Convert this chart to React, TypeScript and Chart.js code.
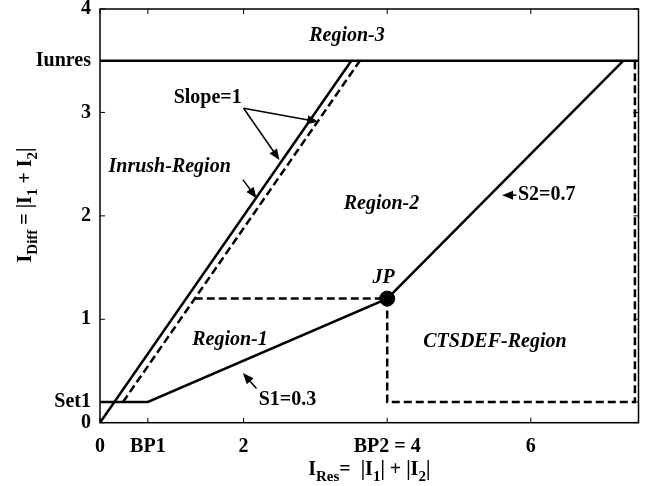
import React, { useEffect, useRef } from "react";
import { Chart, registerables } from "chart.js";

Chart.register(...registerables);

// ---- tick values and labels ----
const xTickValues = [0, 0.667, 2, 4, 6];
const xTickLabels = ["0", "BP1", "2", "BP2 = 4", "6"];
const yTickValues = [0, 0.2, 1, 2, 3, 3.5, 4];
const yTickLabels = ["0", "Set1", "1", "2", "3", "Iunres", "4"];

// ---- line series ----
const charX = [0, 0.667, 4, 7.29];
const charY = [0.2, 0.2, 1.2, 3.5];
const slopeSolidX = [0, 3.5];
const slopeSolidY = [0, 3.5];
const slopeDashX = [0.32, 3.62];
const slopeDashY = [0.2, 3.5];
const iunresX = [0, 7.5];
const iunresY = [3.5, 3.5];
const jpDashX = [1.32, 4];
const jpDashY = [1.2, 1.2];
const ctsdefX = [4, 4, 7.45, 7.45];
const ctsdefY = [1.2, 0.2, 0.2, 3.5];
const jpX = [4];
const jpY = [1.2];

// ---- annotations ----
const noteTexts = ["Region-3", "Inrush-Region", "Region-2", "Region-1", "CTSDEF-Region", "JP", "Slope=1", "S1=0.3", "S2=0.7"];
const noteX = [3.44, 0.97, 3.92, 1.81, 5.5, 3.95, 1.5, 2.61, 5.82];
const noteY = [3.74, 2.47, 2.12, 0.8, 0.78, 1.4, 3.14, 0.22, 2.2];
const noteItalic = [true, true, true, true, true, true, false, false, false];
const noteAlign = ["center", "center", "center", "center", "center", "center", "center", "center", "left"];

const arrowFromX = [2.0, 2.0, 1.99, 2.18, 5.8];
const arrowFromY = [3.04, 3.04, 2.35, 0.33, 2.2];
const arrowToX = [3.04, 2.5, 2.18, 1.99, 5.6];
const arrowToY = [2.91, 2.54, 2.17, 0.48, 2.2];

// axis titles: [text, isSubscript]
const xTitleParts: [string, boolean][] = [["I", false], ["Res", true], ["=  |I", false], ["1", true], ["| + |I", false], ["2", true], ["|", false]];
const yTitleParts: [string, boolean][] = [["I", false], ["Diff", true], [" = |I", false], ["1", true], [" + I", false], ["2", true], ["|", false]];

const FAMILY = "'Liberation Serif', 'DejaVu Serif', serif";
const FS = 20;

function pts(xs: number[], ys: number[]) {
  return xs.map((x, i) => ({ x, y: ys[i] }));
}

function drawRich(ctx: CanvasRenderingContext2D, parts: [string, boolean][], cx: number, baseY: number) {
  const main = `bold ${FS}px ${FAMILY}`;
  const sub = `bold 15px ${FAMILY}`;
  let total = 0;
  for (const [t, s] of parts) {
    ctx.font = s ? sub : main;
    total += ctx.measureText(t).width;
  }
  let x = cx - total / 2;
  ctx.textAlign = "left";
  ctx.textBaseline = "alphabetic";
  for (const [t, s] of parts) {
    ctx.font = s ? sub : main;
    ctx.fillText(t, x, s ? baseY + 6 : baseY);
    x += ctx.measureText(t).width;
  }
}

function drawArrow(ctx: CanvasRenderingContext2D, x1: number, y1: number, x2: number, y2: number) {
  const ang = Math.atan2(y2 - y1, x2 - x1);
  const len = 11;
  const half = 4.5;
  ctx.beginPath();
  ctx.moveTo(x1, y1);
  ctx.lineTo(x2 - Math.cos(ang) * len * 0.8, y2 - Math.sin(ang) * len * 0.8);
  ctx.lineWidth = 1.5;
  ctx.stroke();
  ctx.beginPath();
  ctx.moveTo(x2, y2);
  ctx.lineTo(x2 - Math.cos(ang) * len - Math.sin(ang) * half, y2 - Math.sin(ang) * len + Math.cos(ang) * half);
  ctx.lineTo(x2 - Math.cos(ang) * len + Math.sin(ang) * half, y2 - Math.sin(ang) * len - Math.cos(ang) * half);
  ctx.closePath();
  ctx.fill();
}

const decorPlugin = {
  id: "decor",
  afterDraw(chart: any) {
    const ctx: CanvasRenderingContext2D = chart.ctx;
    const a = chart.chartArea;
    const xs = chart.scales.x;
    const ys = chart.scales.y;
    ctx.save();
    ctx.strokeStyle = "#000";
    ctx.fillStyle = "#000";
    // box
    ctx.lineWidth = 1.5;
    ctx.strokeRect(a.left, a.top, a.right - a.left, a.bottom - a.top);
    // inward ticks
    ctx.lineWidth = 1;
    ctx.beginPath();
    for (const v of xTickValues) {
      const px = xs.getPixelForValue(v);
      ctx.moveTo(px, a.bottom);
      ctx.lineTo(px, a.bottom - 5);
      ctx.moveTo(px, a.top);
      ctx.lineTo(px, a.top + 5);
    }
    for (const v of yTickValues) {
      const py = ys.getPixelForValue(v);
      ctx.moveTo(a.left, py);
      ctx.lineTo(a.left + 5, py);
      ctx.moveTo(a.right, py);
      ctx.lineTo(a.right - 5, py);
    }
    ctx.stroke();
    // annotations
    ctx.textBaseline = "middle";
    noteTexts.forEach((t, i) => {
      ctx.font = `${noteItalic[i] ? "italic " : ""}bold ${FS}px ${FAMILY}`;
      ctx.textAlign = noteAlign[i] as CanvasTextAlign;
      ctx.fillText(t, xs.getPixelForValue(noteX[i]), ys.getPixelForValue(noteY[i]));
    });
    // arrows
    arrowFromX.forEach((_, i) => {
      drawArrow(
        ctx,
        xs.getPixelForValue(arrowFromX[i]),
        ys.getPixelForValue(arrowFromY[i]),
        xs.getPixelForValue(arrowToX[i]),
        ys.getPixelForValue(arrowToY[i])
      );
    });
    // axis titles
    drawRich(ctx, xTitleParts, (a.left + a.right) / 2, 475);
    ctx.save();
    ctx.translate(31, 205);
    ctx.rotate(-Math.PI / 2);
    drawRich(ctx, yTitleParts, 0, 0);
    ctx.restore();
    ctx.restore();
  },
};

export default function App() {
  const ref = useRef<HTMLCanvasElement | null>(null);
  useEffect(() => {
    if (!ref.current) return;
    const solid = { borderColor: "#000", borderWidth: 2.5, pointRadius: 0, showLine: true, fill: false };
    const dashed = { ...solid, borderDash: [8, 4] };
    const chart = new Chart(ref.current, {
      type: "scatter",
      data: {
        datasets: [
          { ...solid, label: "Iunres", data: pts(iunresX, iunresY) },
          { ...solid, label: "Characteristic", data: pts(charX, charY) },
          { ...solid, label: "Slope solid", data: pts(slopeSolidX, slopeSolidY) },
          { ...dashed, label: "Slope dashed", data: pts(slopeDashX, slopeDashY) },
          { ...dashed, label: "JP dashed", data: pts(jpDashX, jpDashY) },
          { ...dashed, label: "CTSDEF", data: pts(ctsdefX, ctsdefY) },
          {
            label: "JP",
            data: pts(jpX, jpY),
            showLine: false,
            pointRadius: 7.5,
            pointBackgroundColor: "#000",
            pointBorderColor: "#000",
          },
        ] as any,
      },
      options: {
        animation: false,
        responsive: false,
        layout: { padding: { left: 0, right: 7.7, top: 9, bottom: 0 } },
        plugins: { legend: { display: false }, tooltip: { enabled: false } },
        scales: {
          x: {
            type: "linear",
            min: 0,
            max: 7.5,
            grid: { display: false, drawTicks: false },
            border: { display: false },
            afterBuildTicks: (s: any) => {
              s.ticks = xTickValues.map((v) => ({ value: v }));
            },
            afterFit: (s: any) => {
              s.height = 63.3;
              s.paddingLeft = 0;
              s.paddingRight = 0;
            },
            ticks: {
              autoSkip: false,
              maxRotation: 0,
              padding: 12,
              color: "#000",
              font: { family: FAMILY, size: FS, weight: "bold" },
              callback: (_v: any, i: number) => xTickLabels[i],
            },
          },
          y: {
            type: "linear",
            min: 0,
            max: 4,
            grid: { display: false, drawTicks: false },
            border: { display: false },
            afterBuildTicks: (s: any) => {
              s.ticks = yTickValues.map((v) => ({ value: v }));
            },
            afterFit: (s: any) => {
              s.width = 100;
              s.paddingTop = 0;
              s.paddingBottom = 0;
            },
            ticks: {
              autoSkip: false,
              padding: 9,
              color: "#000",
              font: { family: FAMILY, size: FS, weight: "bold" },
              callback: (_v: any, i: number) => yTickLabels[i],
            },
          },
        },
      } as any,
      plugins: [decorPlugin],
    });
    return () => chart.destroy();
  }, []);
  return (
    <div style={{ position: "fixed", left: 0, top: 0, width: 647, height: 486, background: "#fff" }}>
      <canvas ref={ref} width={647} height={486} style={{ display: "block" }} />
    </div>
  );
}
